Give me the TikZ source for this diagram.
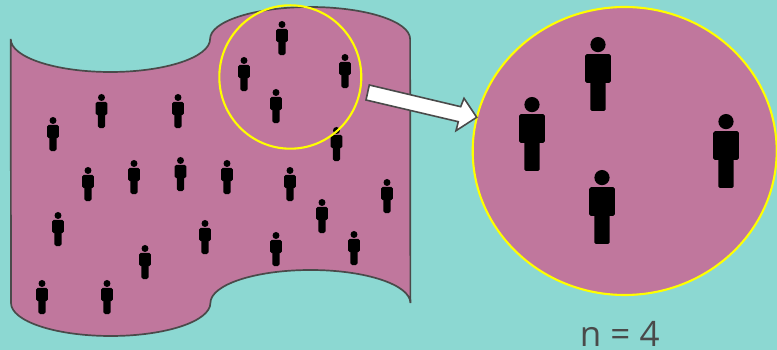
\documentclass[tikz,border=0pt]{standalone}
\usepackage{fontspec}
\setmainfont{Open Sans}
\usepackage{xcolor}
\definecolor{bgteal}{HTML}{8CD8D2}
\definecolor{sheetpink}{HTML}{C0779D}
\definecolor{edgegray}{HTML}{4A4A4A}
\definecolor{ringyellow}{HTML}{FFFF00}

\begin{document}
\begin{tikzpicture}[
    x=1pt, y=1pt,
    sheet/.style={draw=edgegray, line width=1.7pt, fill=sheetpink},
    ring/.style={draw=ringyellow, line width=2.1pt},
    bigarrow/.style={draw=edgegray, line width=1.6pt, fill=white, line join=miter},
    person/.pic={
        \fill[black] (0,-7.6) circle (7.6);
        \fill[black, rounded corners=1.6pt] (-12.8,-17.2) rectangle (12.8,-46);
        \fill[black, rounded corners=1.6pt] (-7.7,-40) rectangle (7.7,-74);
    }
]

% Background
\fill[bgteal] (0,0) rectangle (777,350);
\useasboundingbox (0,0) rectangle (777,350);

% Wavy sheet
\draw[sheet] (10.7,311)
    arc[start angle=180, end angle=360, x radius=99.7, y radius=33]
    arc[start angle=180, end angle=0, x radius=100, y radius=32]
    -- (410.4,47)
    arc[start angle=0, end angle=180, x radius=100, y radius=33]
    arc[start angle=360, end angle=180, x radius=99.7, y radius=33]
    -- cycle;

% People on the sheet
\foreach \px/\py in {282/21, 244/57, 345/54, 276/89, 101.5/94, 178/94, 53/117, 336.5/127,
    88/167, 134/160, 180.5/157, 227/160, 290/167, 387/179, 322/199, 58/212,
    205/220, 276/232, 354/231, 145/245, 42/280, 107/280}
    \pic[scale=0.46] at (\px,350-\py) {person};

% Sampled area
\draw[ring] (290.3,273) ellipse [x radius=71, y radius=71.7];

% Enlarged area
\draw[ring, fill=sheetpink] (624.7,199) ellipse [x radius=152, y radius=144];
\foreach \px/\py in {598/37, 532/97, 726/114, 602/170}
    \pic at (\px,350-\py) {person};

% Arrow to enlarged area
\draw[bigarrow] (369.3,265) -- (460.7,243.3) -- (464,251.7) -- (476.7,232.7)
    -- (456,219.3) -- (458.3,228.3) -- (366,250) -- cycle;

% Sample size
\node[text=edgegray, font=\fontsize{35}{38}\selectfont, inner sep=0pt, anchor=base] (count) at (619.7,3.5) {n = 4};

\end{tikzpicture}
\end{document}
